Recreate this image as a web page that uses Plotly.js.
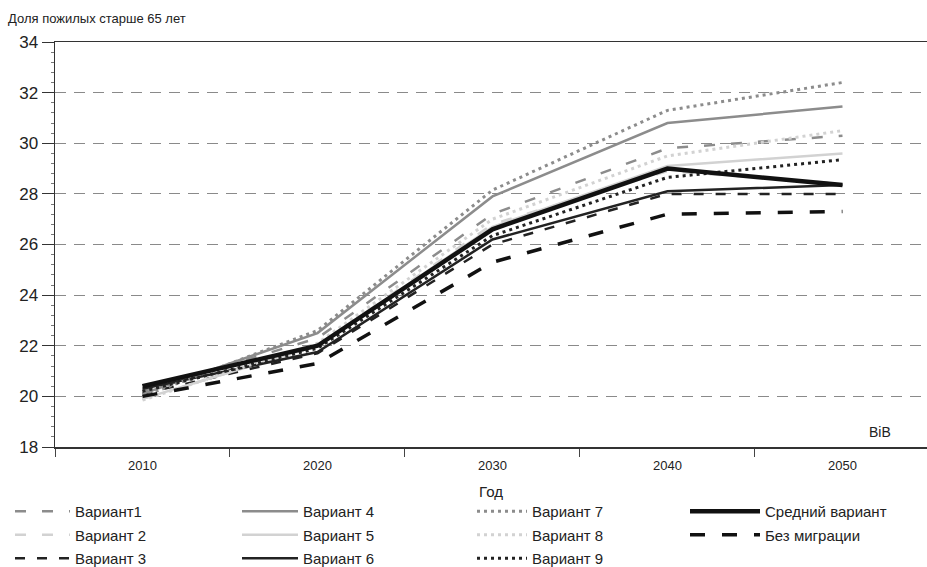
<!DOCTYPE html>
<html>
<head>
<meta charset="utf-8">
<script src="https://cdn.plot.ly/plotly-3.0.1.min.js"></script>
<style>html,body{margin:0;padding:0;background:#fff;}#chart{width:927px;height:567px;}</style>
</head>
<body>
<div id="chart"></div>
<script>
// ---- data ----
const years = ['2010', '2020', '2030', '2040', '2050'];
const variant1 = [20.2, 22.3, 27.2, 29.8, 30.3];
const variant2 = [19.9, 22.0, 26.8, 28.9, 28.4];
const variant3 = [20.1, 21.7, 26.0, 28.0, 28.0];
const variant4 = [20.1, 22.5, 27.9, 30.8, 31.45];
const variant5 = [19.9, 22.0, 26.7, 29.1, 29.6];
const variant6 = [20.3, 21.75, 26.2, 28.1, 28.35];
const variant7 = [20.0, 22.6, 28.15, 31.3, 32.4];
const variant8 = [19.85, 22.1, 27.0, 29.5, 30.5];
const variant9 = [20.2, 21.9, 26.35, 28.65, 29.35];
const medium = [20.4, 22.0, 26.6, 29.0, 28.35];
const noMigration = [20.0, 21.3, 25.3, 27.2, 27.3];

const names = ['Вариант1', 'Вариант 2', 'Вариант 3', 'Вариант 4', 'Вариант 5', 'Вариант 6',
               'Вариант 7', 'Вариант 8', 'Вариант 9', 'Средний вариант', 'Без миграции'];
const yTitle = 'Доля пожилых старше 65 лет';
const xTitle = 'Год';
const sourceNote = 'BiB';

// ---- styles ----
const NARROW = '"Liberation Sans Narrow", "Arial Narrow", "Liberation Sans", Arial, sans-serif';
const SANS = '"Liberation Sans", Arial, sans-serif';
const MID = '#8c8c8c', LIGHT = '#d2d2d2', DARK = '#222222';
const styles = [
  {color: MID,   width: 2.5, dash: '11px,16px', legend: 'legend'},
  {color: LIGHT, width: 2.5, dash: '11px,16px', legend: 'legend'},
  {color: DARK,  width: 2.5, dash: '10px,12px', legend: 'legend'},
  {color: MID,   width: 2.5, dash: 'solid',     legend: 'legend2'},
  {color: LIGHT, width: 2.5, dash: 'solid',     legend: 'legend2'},
  {color: DARK,  width: 2.5, dash: 'solid',     legend: 'legend2'},
  {color: MID,   width: 3,   dash: '3px,4px',   legend: 'legend3'},
  {color: LIGHT, width: 3,   dash: '3px,4px',   legend: 'legend3'},
  {color: DARK,  width: 3,   dash: '3px,4px',   legend: 'legend3'},
  {color: '#111', width: 4.5, dash: 'solid',    legend: 'legend4'},
  {color: '#111', width: 3.5, dash: '15px,17px', legend: 'legend4'}
];
const values = [variant1, variant2, variant3, variant4, variant5, variant6,
                variant7, variant8, variant9, medium, noMigration];

const traces = values.map((v, i) => ({
  type: 'scatter', mode: 'lines', x: years, y: v, name: names[i],
  line: {color: styles[i].color, width: styles[i].width, dash: styles[i].dash},
  legend: styles[i].legend, legendgroup: 'g' + i, hoverinfo: 'x+y+name'
}));

// plot area: x 55..927, y 42..447
const PL = 55, PW = 872, PB = 447, PH = 405;
const px = (x) => (x - PL) / PW;
const py = (y) => (PB - y) / PH;

const legendBase = {
  yref: 'paper', xref: 'paper', y: py(495), yanchor: 'top', xanchor: 'left',
  orientation: 'v', bgcolor: 'rgba(0,0,0,0)', borderwidth: 0,
  font: {family: SANS, size: 15, color: '#222'}, tracegroupgap: 1, itemwidth: 55
};

const layout = {
  width: 927, height: 567,
  margin: {l: 55, r: 0, t: 42, b: 120, autoexpand: false},
  paper_bgcolor: '#fff', plot_bgcolor: '#fff',
  title: {text: yTitle, xref: 'container', yref: 'container', x: 8 / 927, xanchor: 'left',
          y: 1 - 18 / 567, yanchor: 'middle', font: {family: NARROW, size: 13, color: '#222'}},
  xaxis: {
    type: 'category', range: [-0.5, 4.483], tickson: 'boundaries',
    ticks: 'outside', ticklen: 8, tickcolor: '#444', tickwidth: 1,
    showline: true, linecolor: '#333', linewidth: 1.5, mirror: true,
    showgrid: false, zeroline: false, automargin: false, tickangle: 0,
    ticklabelstandoff: 6,
    tickfont: {family: NARROW, size: 13, color: '#222'},
    title: {text: xTitle, font: {family: SANS, size: 15, color: '#222'}, standoff: 14}
  },
  yaxis: {
    range: [18, 34], tick0: 18, dtick: 2, automargin: false,
    ticks: 'outside', ticklen: 12, tickcolor: '#333', tickwidth: 1,
    showline: true, linecolor: '#333', linewidth: 1.5,
    showgrid: true, gridcolor: '#8a8a8a', gridwidth: 1, griddash: '11px,8px',
    zeroline: false,
    tickfont: {family: SANS, size: 17, color: '#222'},
    minor: {dtick: 0.4, ticks: 'outside', ticklen: 3, tickcolor: '#777', showgrid: false}
  },
  showlegend: true,
  legend:  Object.assign({}, legendBase, {x: px(10)}),
  legend2: Object.assign({}, legendBase, {x: px(237), itemwidth: 56}),
  legend3: Object.assign({}, legendBase, {x: px(472), itemwidth: 50}),
  legend4: Object.assign({}, legendBase, {x: px(685), itemwidth: 70}),
  annotations: [{
    text: sourceNote, xref: 'paper', yref: 'paper',
    x: px(880), y: py(432), xanchor: 'center', yanchor: 'middle',
    showarrow: false, font: {family: NARROW, size: 14, color: '#222'}
  }]
};

Plotly.newPlot('chart', traces, layout, {displayModeBar: false, staticPlot: true});
</script>
</body>
</html>
